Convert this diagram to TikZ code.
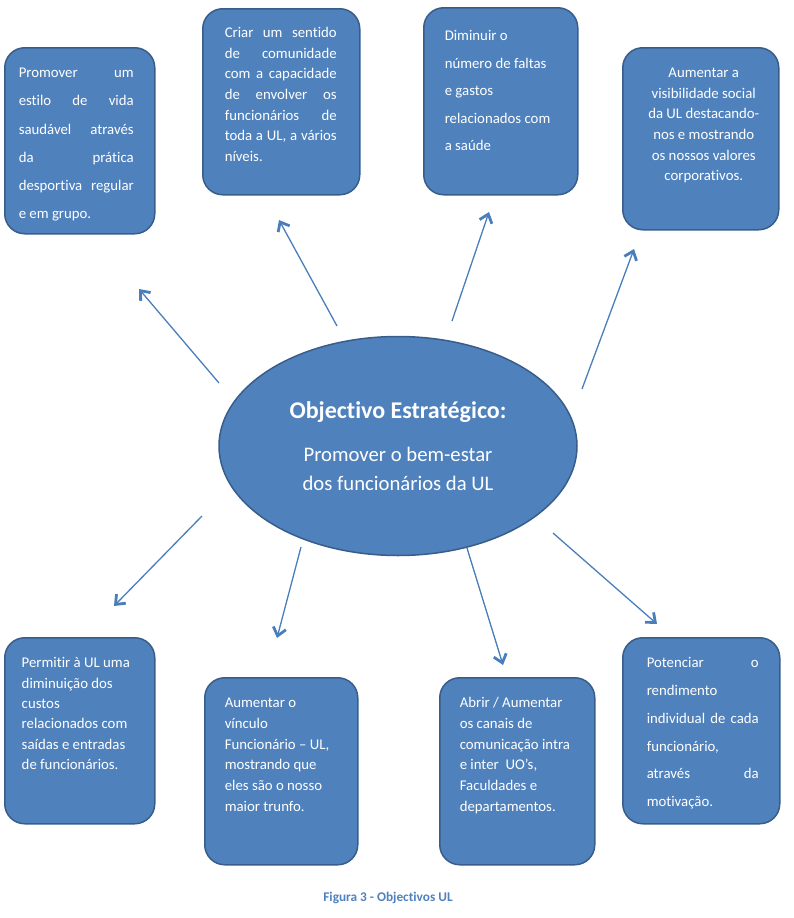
\documentclass[tikz,border=0pt]{standalone}
\usepackage{fontspec}
\setmainfont{Carlito}[Ligatures={NoCommon}]
\usetikzlibrary{shapes.geometric,arrows.meta}
\definecolor{boxfill}{HTML}{4F81BD}
\definecolor{boxline}{HTML}{385D8A}
\definecolor{arrowblue}{HTML}{4A7EBB}
\newcommand\goalfont{\fontsize{14.8}{20.6}\selectfont}
% #1 width, #2 height, #3 line skip, #4 first baseline, #5 margins, #6 text
\newcommand\goaltext[6]{\vbox to #2{\hsize=#1\relax\parindent=0pt
  \tolerance=10000 \hbadness=10000 \hyphenpenalty=10000
  \baselineskip=#3\relax #5\relax
  \leavevmode\rule{0pt}{#4}\ignorespaces #6\par\vfil}}
\newcommand\goaljust[2]{\leftskip=#1\rightskip=#2\parfillskip=0pt plus 1fil\relax}
\newcommand\goalrag[2]{\leftskip=#1\rightskip=#2 plus 1fil\parfillskip=0pt\relax}
\newcommand\goalmid[2]{\leftskip=#1 plus 1fil\rightskip=#2 plus 1fil\parfillskip=0pt\relax}
\tikzset{
  goal/.style={draw=boxline, fill=boxfill, line width=1.5pt, rounded corners=20pt,
    inner sep=0pt, anchor=north west, text=white, font=\goalfont},
  aim/.style={ellipse, draw=boxline, fill=boxfill, line width=1.5pt, inner sep=0pt,
    minimum width=358pt, minimum height=219pt, text=white, align=center,
    font=\fontsize{20.7}{29}\selectfont},
  link/.style={draw=arrowblue, line width=1.3pt,
    -{Straight Barb[length=8pt,width=13pt,line width=2.8pt]}},
  caption/.style={anchor=base, text=boxfill, font=\fontsize{13.3}{16}\selectfont\bfseries}
}

\begin{document}
\begin{tikzpicture}[x=1pt,y=-1pt]
\useasboundingbox (0,0) rectangle (794,918);

% central objective
\node[aim] (aim) at (398,446) {{\fontsize{24}{29}\selectfont\bfseries Objectivo Estratégico:}\\[14pt]
  Promover o bem-estar\\dos funcionários da UL};

% top row
\node[goal] (g1) at (4,47) {\goaltext{150pt}{186pt}{28.2pt}{30pt}{\goaljust{14pt}{21pt}}{Promover um\break
  estilo de vida\break saudável através\break da prática\break desportiva regular\break e em grupo.}};
\node[goal] (g2) at (202,8) {\goaltext{157pt}{186pt}{20.6pt}{29pt}{\goaljust{22pt}{23pt}}{Criar um sentido\break
  de comunidade\break com a capacidade\break de envolver os\break funcionários de\break toda a UL, a vários\break níveis.}};
\node[goal] (g3) at (423,7) {\goaltext{154pt}{187pt}{27.5pt}{33pt}{\goalrag{21pt}{15pt}}{Diminuir o\break
  número de faltas\break e gastos\break relacionados com\break a saúde}};
\node[goal] (g4) at (622,47) {\goaltext{156pt}{182pt}{20.6pt}{30pt}{\goalmid{16pt}{10pt}}{Aumentar a\break
  visibilidade social\break da UL destacando-\break nos e mostrando\break os nossos valores\break corporativos.}};

% bottom row
\node[goal] (g5) at (4,637) {\goaltext{150pt}{186pt}{20.4pt}{30pt}{\goalrag{17pt}{15pt}}{Permitir à UL uma\break
  diminuição dos\break custos\break relacionados com\break saídas e entradas\break de funcionários.}};
\node[goal] (g6) at (204,677) {\goaltext{153pt}{187pt}{20.7pt}{30pt}{\goalrag{20pt}{15pt}}{Aumentar o\break
  vínculo\break Funcionário – UL,\break mostrando que\break eles são o nosso\break maior trunfo.}};
\node[goal] (g7) at (439,677) {\goaltext{155pt}{187pt}{20.7pt}{30pt}{\goalrag{20pt}{15pt}}{Abrir / Aumentar\break
  os canais de\break comunicação intra\break e inter\ \ UO’s,\break Faculdades e\break departamentos.}};
\node[goal] (g8) at (622,637) {\goaltext{157pt}{186pt}{27.8pt}{30pt}{\goaljust{24pt}{21pt}}{Potenciar o\break
  rendimento\break individual de cada\break funcionário,\break através da\break motivação.}};

% arrows
\coordinate (s1) at (219,383); \coordinate (t1) at (139,289);
\coordinate (s2) at (337,326); \coordinate (t2) at (279,220);
\coordinate (s3) at (452,321); \coordinate (t3) at (489,212);
\coordinate (s4) at (582,389); \coordinate (t4) at (634,249);
\coordinate (s5) at (202,516); \coordinate (t5) at (114,606);
\coordinate (s6) at (301,547); \coordinate (t6) at (277,638);
\coordinate (s7) at (467,548); \coordinate (t7) at (503,665);
\coordinate (s8) at (553,533); \coordinate (t8) at (657,624);
\foreach \i in {1,...,8}
  \draw[link] (s\i) -- (t\i);

\node[caption] (fig) at (388,901) {Figura 3 - Objectivos UL};
\end{tikzpicture}
\end{document}
